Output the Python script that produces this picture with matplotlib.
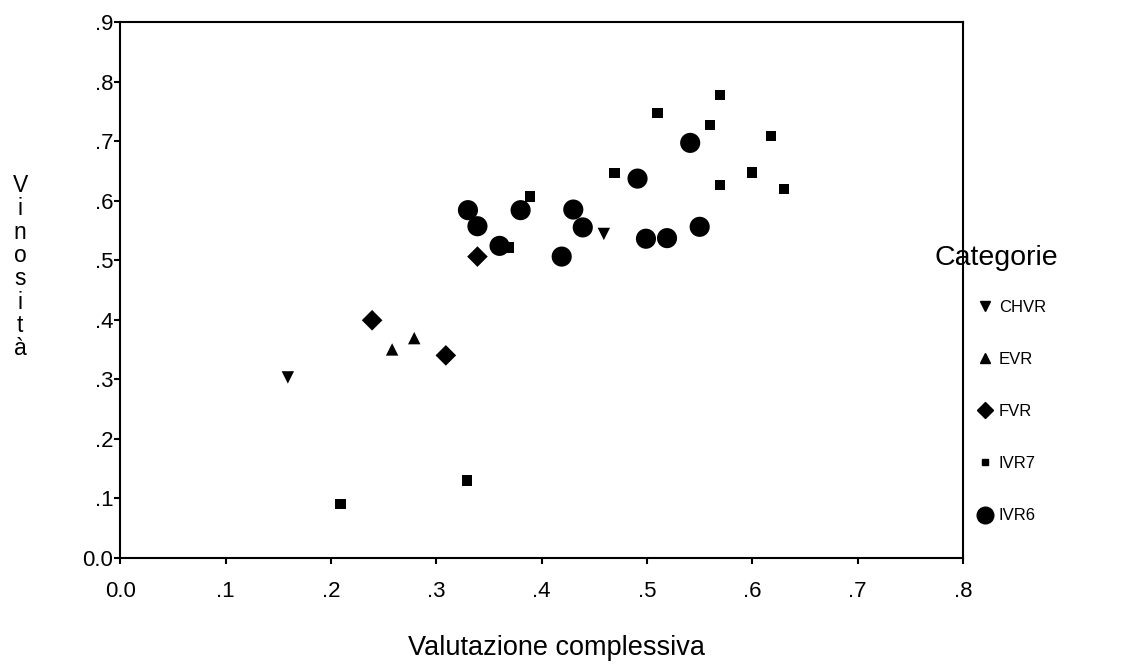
import matplotlib
matplotlib.use("Agg")
import matplotlib.pyplot as plt
from matplotlib.lines import Line2D

plt.rcParams['font.family'] = ['Liberation Sans', 'DejaVu Sans']

# ---- data ----
chvr_x = [0.159, 0.459]
chvr_y = [0.303, 0.544]
evr_x = [0.258, 0.279]
evr_y = [0.350, 0.369]
fvr_x = [0.239, 0.309, 0.339]
fvr_y = [0.399, 0.340, 0.506]
ivr7_x = [0.209, 0.329, 0.369, 0.389, 0.469, 0.510, 0.560, 0.569, 0.569, 0.600, 0.618, 0.630]
ivr7_y = [0.090, 0.130, 0.521, 0.607, 0.646, 0.747, 0.727, 0.777, 0.626, 0.647, 0.708, 0.619]
ivr6_x = [0.330, 0.339, 0.360, 0.380, 0.419, 0.430, 0.439, 0.491, 0.499, 0.519, 0.541, 0.550]
ivr6_y = [0.584, 0.557, 0.524, 0.584, 0.506, 0.585, 0.555, 0.637, 0.536, 0.537, 0.697, 0.556]

categories = ["CHVR", "EVR", "FVR", "IVR7", "IVR6"]
x_ticks = [0.0, 0.1, 0.2, 0.3, 0.4, 0.5, 0.6, 0.7, 0.8]
x_tick_labels = ["0.0", ".1", ".2", ".3", ".4", ".5", ".6", ".7", ".8"]
y_ticks = [0.0, 0.1, 0.2, 0.3, 0.4, 0.5, 0.6, 0.7, 0.8, 0.9]
y_tick_labels = ["0.0", ".1", ".2", ".3", ".4", ".5", ".6", ".7", ".8", ".9"]

fig = plt.figure(figsize=(11.25, 6.68), dpi=100)
ax = fig.add_axes([0.107, 0.165, 0.749, 0.802])

series = [
    (chvr_x, chvr_y, 'v', 80),
    (evr_x, evr_y, '^', 80),
    (fvr_x, fvr_y, 'D', 110),
    (ivr7_x, ivr7_y, 's', 55),
    (ivr6_x, ivr6_y, 'o', 210),
]
for (xs, ys, m, s), name in zip(series, categories):
    ax.scatter(xs, ys, marker=m, s=s, color='black', edgecolors='none', label=name)

ax.set_xlim(0.0, 0.8)
ax.set_ylim(0.0, 0.9)
ax.set_xticks(x_ticks)
ax.set_xticklabels(x_tick_labels)
ax.set_yticks(y_ticks)
ax.set_yticklabels(y_tick_labels)
ax.tick_params(axis='both', direction='out', length=4, width=1.5, labelsize=16, colors='black')
ax.tick_params(axis='x', pad=13)
ax.tick_params(axis='y', pad=1)
for sp in ax.spines.values():
    sp.set_linewidth(1.5)
    sp.set_color('black')

ax.set_xlabel("Valutazione complessiva", fontsize=19.5)
ax.xaxis.set_label_coords(0.518, -0.145)
fig.text(0.018, 0.6, "\n".join("Vinosità"), fontsize=16.5, ha='center', va='center',
         linespacing=1.02)

handles = [
    Line2D([], [], marker='v', color='black', linestyle='none', markersize=7),
    Line2D([], [], marker='^', color='black', linestyle='none', markersize=7),
    Line2D([], [], marker='D', color='black', linestyle='none', markersize=8),
    Line2D([], [], marker='s', color='black', linestyle='none', markersize=5),
    Line2D([], [], marker='o', color='black', linestyle='none', markersize=12),
]
leg = ax.legend(handles, categories, loc='center left',
                bbox_to_anchor=(0.997, 0.273), frameon=False, fontsize=12,
                labelspacing=2.23, handletextpad=0.2, handlelength=1.2)
fig.text(0.886, 0.614, "Categorie", fontsize=20.5, ha='center', va='center')

fig.savefig("out.png", dpi=100, facecolor='white')
